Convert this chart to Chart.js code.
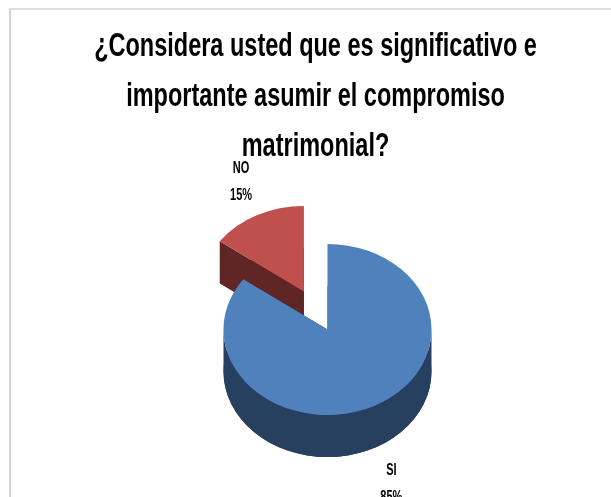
<!DOCTYPE html>
<html>
<head>
<meta charset="utf-8">
<style>
  html, body { margin: 0; padding: 0; background: #fff; overflow: hidden; }
  #frame { position: absolute; left: 9px; top: 8px; width: 602px; height: 489px;
           border-left: 2px solid #d2d2d2; border-top: 2px solid #e0e0e0; box-sizing: border-box; }
  #wrap { position: absolute; left: 0; top: 0; width: 611px; height: 497px; }
</style>
</head>
<body>
<div id="frame"></div>
<div id="wrap"><canvas id="pie" width="611" height="497"></canvas></div>
<script src="https://cdn.jsdelivr.net/npm/chart.js@4"></script>
<script>
// Survey answers, NO first so the front slice paints over it
const categories = ['NO', 'SI'];
const percentages = [15, 85];
const titleLines = [
  '¿Considera usted que es significativo e',
  'importante asumir el compromiso',
  'matrimonial?'
];

const topColors = ['#C0504D', '#4F81BD'];
const sideColors = ['#5F2625', '#27405F'];

const narrowFont = '"Liberation Sans Narrow", "Liberation Sans", sans-serif';

// Fake 3D settings
const tilt = 0.822;        // vertical squash of the pie
const depth = 42;          // wall height in px
const pieShiftX = 12;      // pie sits right of the title centre
const explode = [52, 0];   // how far each slice is pulled out
const titleStretch = 1.4;  // title is drawn tall and narrow
const labelStretch = 1.5;

// Extra nudge for each label block, on top of the radial placement
const labelRadius = 145;
const labelLineGap = 13.5;
const labelNudge = [[3, -3], [-2, 6]];

function arcGeometry(arc) {
  const p = arc.getProps(['x', 'y', 'startAngle', 'endAngle', 'outerRadius'], true);
  return {
    x: p.x,
    y: p.y,
    start: p.startAngle,
    end: p.endAngle,
    r: p.outerRadius,
    mid: (p.startAngle + p.endAngle) / 2
  };
}

function pieCenterY(chart) {
  return (chart.chartArea.top + chart.chartArea.bottom) / 2;
}

// Paints the part of a slice's wall that shows below its top face
function fillWall(ctx, g, dy) {
  // bottom face
  ctx.beginPath();
  ctx.moveTo(g.x, g.y + dy);
  ctx.arc(g.x, g.y + dy, g.r, g.start, g.end);
  ctx.closePath();
  ctx.fill();

  // the two cut faces
  [g.start, g.end].forEach(a => {
    const px = g.x + Math.cos(a) * g.r;
    const py = g.y + Math.sin(a) * g.r;
    ctx.beginPath();
    ctx.moveTo(g.x, g.y);
    ctx.lineTo(px, py);
    ctx.lineTo(px, py + dy);
    ctx.lineTo(g.x, g.y + dy);
    ctx.closePath();
    ctx.fill();
  });

  // curved front, only the half facing the viewer
  const from = Math.max(g.start, 0);
  const to = Math.min(g.end, Math.PI);
  if (from < to) {
    ctx.beginPath();
    ctx.arc(g.x, g.y, g.r, from, to);
    ctx.arc(g.x, g.y + dy, g.r, to, from, true);
    ctx.closePath();
    ctx.fill();
  }
}

const pie3d = {
  id: 'pie3d',
  afterDatasetUpdate(chart) {
    // move slices out without the radius change the arc offset option brings
    chart.getDatasetMeta(0).data.forEach((arc, i) => {
      const mid = (arc.startAngle + arc.endAngle) / 2;
      arc.x += Math.cos(mid) * explode[i];
      arc.y += Math.sin(mid) * explode[i];
    });
  },
  beforeDraw(chart) {
    // stretches the title layer, undone again before the datasets
    const ctx = chart.ctx;
    ctx.save();
    ctx.scale(1, titleStretch);
  },
  beforeDatasetsDraw(chart) {
    const ctx = chart.ctx;
    ctx.restore();
    const cy = pieCenterY(chart);

    ctx.save();
    ctx.translate(pieShiftX, cy * (1 - tilt));
    ctx.scale(1, tilt);

    chart.getDatasetMeta(0).data.forEach((arc, i) => {
      ctx.fillStyle = sideColors[i];
      fillWall(ctx, arcGeometry(arc), depth / tilt);
    });
  },
  afterDatasetsDraw(chart) {
    const ctx = chart.ctx;
    ctx.restore();

    // category and percentage labels outside the slices
    const cy = pieCenterY(chart);
    ctx.save();
    ctx.fillStyle = '#000';
    ctx.textAlign = 'center';
    ctx.textBaseline = 'middle';
    ctx.font = 'bold 11px ' + narrowFont;
    chart.getDatasetMeta(0).data.forEach((arc, i) => {
      const g = arcGeometry(arc);
      const wall = Math.sin(g.mid) > 0 ? depth : 0;
      const lx = g.x + pieShiftX + Math.cos(g.mid) * labelRadius + labelNudge[i][0];
      const ly = cy + (g.y - cy + Math.sin(g.mid) * labelRadius) * tilt + wall + labelNudge[i][1];
      [categories[i], percentages[i] + '%'].forEach((text, line) => {
        ctx.save();
        ctx.translate(lx, ly + (line === 0 ? -labelLineGap : labelLineGap));
        ctx.scale(1, labelStretch);
        ctx.fillText(text, 0, 0);
        ctx.restore();
      });
    });
    ctx.restore();
  }
};

new Chart(document.getElementById('pie'), {
  type: 'pie',
  data: {
    labels: categories,
    datasets: [{
      data: percentages,
      backgroundColor: topColors,
      borderWidth: 0,
      clip: false
    }]
  },
  options: {
    responsive: false,
    animation: false,
    radius: 104,
    rotation: -54,
    layout: { padding: { left: 20, right: 0, top: 0, bottom: 13 } },
    plugins: {
      legend: { display: false },
      tooltip: { enabled: false },
      title: {
        display: true,
        text: titleLines,
        color: '#000',
        font: { family: narrowFont, size: 23.5, weight: 'bold', lineHeight: '35.7px' },
        padding: { top: 16, bottom: 52 }
      }
    }
  },
  plugins: [pie3d]
});
</script>
</body>
</html>
